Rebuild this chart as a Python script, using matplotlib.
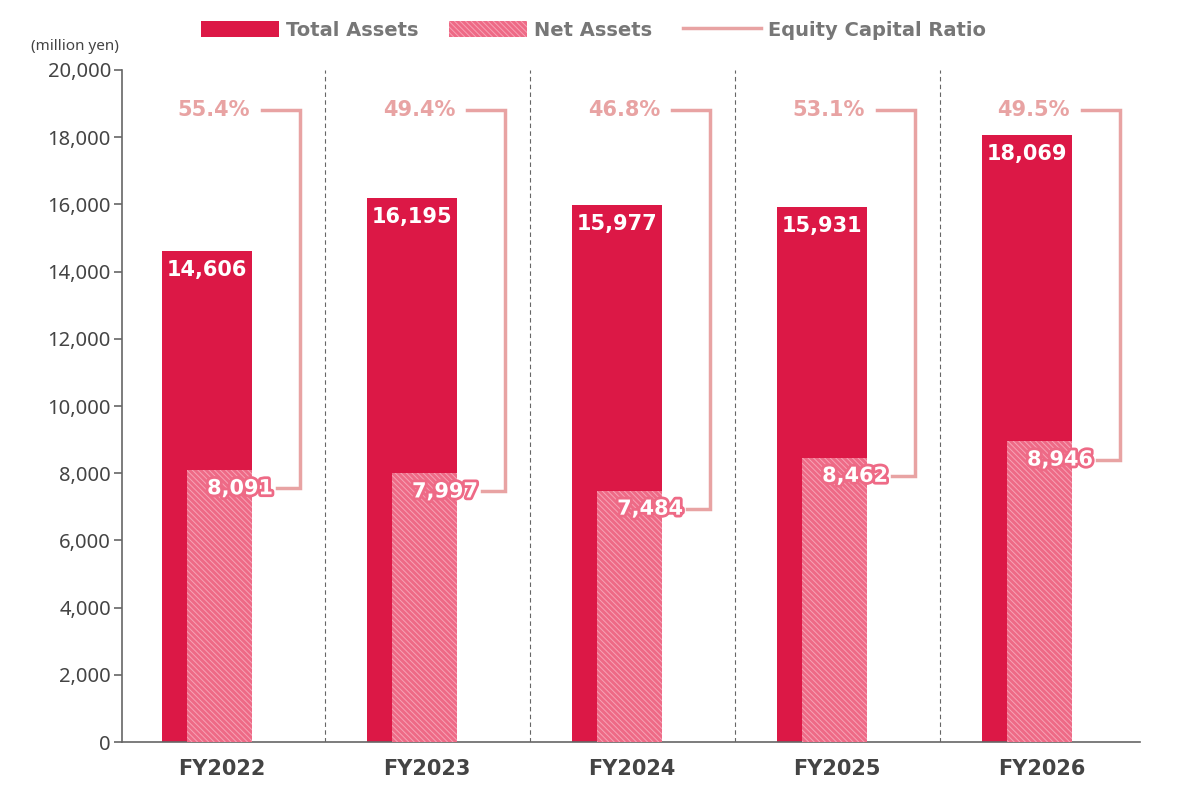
import matplotlib
matplotlib.use("Agg")
import matplotlib.pyplot as plt
import matplotlib.patheffects as pe
from matplotlib.patches import Patch
from matplotlib.lines import Line2D
import numpy as np

plt.rcParams['font.family'] = ['Noto Sans', 'DejaVu Sans']
plt.rcParams['hatch.linewidth'] = 0.7

# data
years = ['FY2022', 'FY2023', 'FY2024', 'FY2025', 'FY2026']
total_assets = [14606, 16195, 15977, 15931, 18069]
net_assets = [8091, 7997, 7484, 8462, 8946]
equity_ratio = [55.4, 49.4, 46.8, 53.1, 49.5]

red = '#DC1846'
pink = '#EE6A86'
hatch_pink = '#F7A3B6'
ratio_col = '#E8A3A3'
gray_txt = '#777777'

fig = plt.figure(figsize=(11.87, 7.99), dpi=100)
ax = fig.add_axes([0.1028, 0.0713, 0.8576, 0.8411])

x = np.arange(len(years))
ax.bar(x - 0.073, total_assets, width=0.44, color=red, zorder=2)
ax.bar(x - 0.012, net_assets, width=0.317, color=pink, edgecolor=hatch_pink,
       linewidth=0, hatch='\\\\\\\\\\\\', zorder=3)

ratio_y = 18800
for i in range(len(years)):
    # total label
    ax.text(x[i] - 0.073, total_assets[i] - 560, f'{total_assets[i]:,}', color='white',
            ha='center', va='center', fontsize=15, fontweight='bold',
            family='DejaVu Sans', zorder=5)
    # net label
    ny = net_assets[i] - 540
    ax.text(x[i] + 0.088, ny, f'{net_assets[i]:,}', color='white',
            ha='center', va='center', fontsize=15, fontweight='bold',
            family='DejaVu Sans', zorder=6,
            path_effects=[pe.withStroke(linewidth=4, foreground=pink)])
    # ratio label + bracket
    ax.text(x[i] + 0.137, ratio_y, f'{equity_ratio[i]}%', color=ratio_col,
            ha='right', va='center', fontsize=15, fontweight='bold',
            family='DejaVu Sans', zorder=5)
    ax.plot([x[i] + 0.195, x[i] + 0.38, x[i] + 0.38, x[i] + 0.27],
            [ratio_y, ratio_y, ny, ny], color=ratio_col, lw=2.5, zorder=4,
            solid_joinstyle='miter')

for s in x[:-1] + 0.5:
    ax.axvline(s, color='#666666', lw=0.8, ls=(0, (4, 3)), zorder=1)

ax.set_xlim(-0.488, 4.478)
ax.set_ylim(0, 20000)
ax.set_yticks(np.arange(0, 20001, 2000))
ax.set_yticklabels([f'{v:,}' for v in range(0, 20001, 2000)], fontsize=14.5, color='#444444')
ax.set_xticks(x)
ax.set_xticklabels(years, fontsize=15, fontweight='bold', color='#444444', family='DejaVu Sans')
ax.tick_params(axis='x', length=0, pad=12)
ax.tick_params(axis='y', length=6, color='#666666', width=1.2, pad=2)
for sp in ['top', 'right']:
    ax.spines[sp].set_visible(False)
ax.spines['left'].set_color('#666666')
ax.spines['bottom'].set_color('#666666')
ax.spines['left'].set_linewidth(1.2)
ax.spines['bottom'].set_linewidth(1.2)

fig.text(0.026, 0.942, '(million yen)', fontsize=11, color='#444444', va='center')

handles = [Patch(facecolor=red),
           Patch(facecolor=pink, edgecolor=hatch_pink, linewidth=0, hatch='\\\\\\\\\\\\'),
           Line2D([0], [0], color=ratio_col, lw=2.5)]
leg = fig.legend(handles, ['Total Assets', 'Net Assets', 'Equity Capital Ratio'],
                 loc='center', bbox_to_anchor=(0.5, 0.962), ncol=3, frameon=False,
                 handlelength=4.0, handleheight=0.9, columnspacing=1.6, handletextpad=0.35,
                 prop={'size': 14, 'weight': 'bold', 'family': 'DejaVu Sans'})
for t in leg.get_texts():
    t.set_color(gray_txt)

fig.savefig('out.png', dpi=100)
